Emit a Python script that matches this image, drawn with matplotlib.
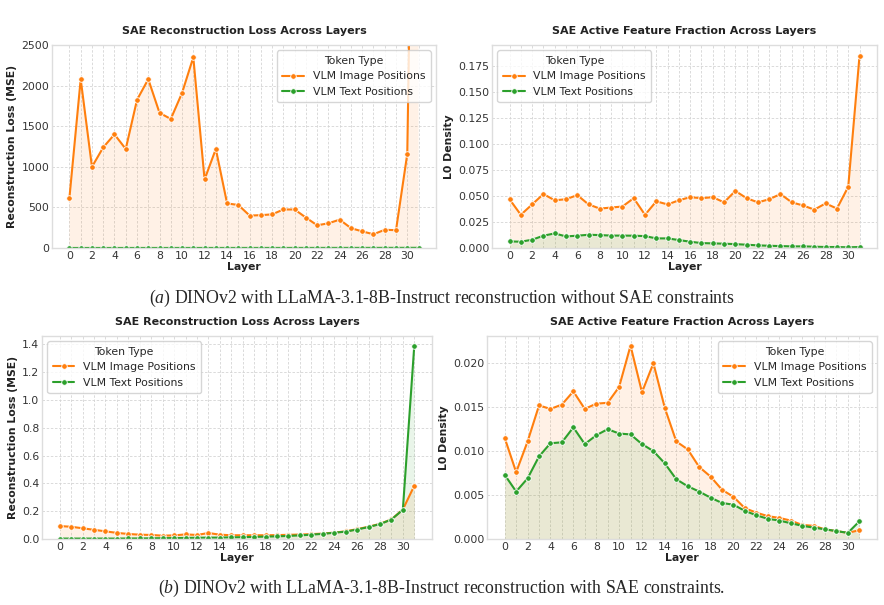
import matplotlib
matplotlib.use("Agg")
import matplotlib.pyplot as plt
import seaborn as sns
import numpy as np
from matplotlib.ticker import MultipleLocator, FixedLocator

sns.set_theme(style="whitegrid")
plt.rcParams['font.family'] = ['DejaVu Sans']
plt.rcParams['mathtext.fontset'] = 'custom'
plt.rcParams['mathtext.it'] = 'Liberation Serif:italic'
plt.rcParams['mathtext.rm'] = 'Liberation Serif'

layers = list(range(32))

# (a) without SAE constraints
a_mse_image = [620, 2080, 1000, 1240, 1400, 1220, 1825, 2080, 1665, 1590,
               1910, 2350, 845, 1220, 550, 530, 400, 405, 415, 475,
               475, 375, 280, 305, 350, 245, 205, 170, 225, 220,
               1160, 10000]
a_mse_text = [1.0, 1.0, 1.1, 1.1, 1.2, 1.2, 1.2, 1.3, 1.3, 1.3,
              1.4, 1.4, 1.4, 1.5, 1.5, 1.5, 1.6, 1.6, 1.7, 1.7,
              1.8, 1.8, 1.9, 2.0, 2.0, 2.1, 2.2, 2.3, 2.4, 2.5,
              2.7, 3.0]
a_l0_image = [0.047, 0.032, 0.042, 0.052, 0.046, 0.047, 0.051, 0.042, 0.038, 0.039,
              0.040, 0.048, 0.032, 0.045, 0.042, 0.046, 0.049, 0.048, 0.049, 0.044,
              0.055, 0.048, 0.044, 0.047, 0.052, 0.044, 0.041, 0.037, 0.043, 0.038,
              0.059, 0.185]
a_l0_text = [0.0064, 0.0061, 0.0080, 0.0119, 0.0141, 0.0112, 0.0119, 0.0128, 0.0125, 0.0120,
             0.0120, 0.0119, 0.0115, 0.0093, 0.0093, 0.0077, 0.0061, 0.0048, 0.0045, 0.0042,
             0.0038, 0.0032, 0.0026, 0.0022, 0.0019, 0.0016, 0.0016, 0.0013, 0.0010, 0.0010,
             0.0007, 0.0010]

# (b) with SAE constraints
b_mse_image = [0.093, 0.088, 0.077, 0.066, 0.055, 0.044, 0.036, 0.031, 0.029, 0.024,
               0.026, 0.033, 0.029, 0.043, 0.031, 0.027, 0.027, 0.027, 0.027, 0.028,
               0.030, 0.032, 0.035, 0.039, 0.046, 0.055, 0.071, 0.088, 0.109, 0.141,
               0.212, 0.383]
b_mse_text = [0.003, 0.003, 0.003, 0.003, 0.003, 0.003, 0.004, 0.004, 0.005, 0.006,
              0.007, 0.008, 0.009, 0.010, 0.010, 0.012, 0.013, 0.015, 0.017, 0.019,
              0.022, 0.026, 0.031, 0.037, 0.045, 0.053, 0.068, 0.086, 0.107, 0.140,
              0.210, 1.390]
b_l0_image = [0.0115, 0.0076, 0.0111, 0.0152, 0.0148, 0.0153, 0.0168, 0.0148, 0.0154, 0.0155,
              0.0173, 0.0220, 0.0167, 0.0200, 0.0149, 0.0111, 0.0102, 0.0082, 0.0071, 0.0056,
              0.0048, 0.0035, 0.0030, 0.0026, 0.0024, 0.0021, 0.0016, 0.0015, 0.0011, 0.0009,
              0.0007, 0.0010]
b_l0_text = [0.0073, 0.0054, 0.0069, 0.0094, 0.0109, 0.0110, 0.0127, 0.0108, 0.0118, 0.0125,
             0.0120, 0.0119, 0.0108, 0.0100, 0.0086, 0.0068, 0.0060, 0.0054, 0.0047, 0.0041,
             0.0039, 0.0032, 0.0027, 0.0023, 0.0021, 0.0018, 0.0015, 0.0013, 0.0011, 0.0009,
             0.0007, 0.0020]

series_labels = ["VLM Image Positions", "VLM Text Positions"]
colors = ["#ff7f0e", "#2ca02c"]
xticks = list(range(0, 31, 2))

fig = plt.figure(figsize=(8.84, 6.05), dpi=100)
axes = {
    "tl": fig.add_axes([0.0588, 0.590, 0.4344, 0.3355]),
    "tr": fig.add_axes([0.5566, 0.590, 0.4355, 0.3355]),
    "bl": fig.add_axes([0.0475, 0.1091, 0.4412, 0.3355]),
    "br": fig.add_axes([0.5509, 0.1091, 0.4412, 0.3355]),
}

FS = 7.8


def draw(ax, ys, title, ylabel, legend_loc, ylim=None):
    for y, lab, c in zip(ys, series_labels, colors):
        ax.fill_between(layers, 0, y, color=c, alpha=0.1, linewidth=0)
        ax.plot(layers, y, color=c, marker='o', markersize=4, linewidth=1.5,
                markeredgecolor='white', markeredgewidth=0.6, label=lab)
    ax.set_xlim(-1.55, 32.55)
    if ylim is not None:
        ax.set_ylim(*ylim)
    else:
        ax.set_ylim(bottom=0)
    ax.xaxis.set_major_locator(FixedLocator(xticks))
    ax.xaxis.set_minor_locator(FixedLocator(layers))
    ax.grid(True, which='both', axis='x', linestyle=(0, (3, 2)), linewidth=0.6, color='#d5d5d5')
    ax.grid(True, which='major', axis='y', linestyle=(0, (3, 2)), linewidth=0.6, color='#d5d5d5')
    ax.tick_params(axis='both', which='major', labelsize=FS, pad=2, length=0,
                   labelcolor='#333333')
    ax.tick_params(axis='x', which='minor', length=0)
    for s in ax.spines.values():
        s.set_color('#dddddd')
        s.set_linewidth(1.0)
    ax.set_title(title, fontsize=8.0, fontweight='bold', pad=8, color='#222222')
    ax.set_xlabel("Layer", fontsize=FS, fontweight='bold', labelpad=1, color='#222222')
    ax.set_ylabel(ylabel, fontsize=FS, fontweight='bold', labelpad=3, color='#222222')
    ax.legend(title="Token Type", loc=legend_loc, fontsize=FS, title_fontsize=FS,
              frameon=True, framealpha=0.8, edgecolor='#cccccc', fancybox=True,
              borderpad=0.5, handlelength=2.0)
    return ax


draw(axes["tl"], [a_mse_image, a_mse_text], "SAE Reconstruction Loss Across Layers",
     "Reconstruction Loss (MSE)", "upper right", ylim=(0, 2500))
draw(axes["tr"], [a_l0_image, a_l0_text], "SAE Active Feature Fraction Across Layers",
     "L0 Density", "upper left")
draw(axes["bl"], [b_mse_image, b_mse_text], "SAE Reconstruction Loss Across Layers",
     "Reconstruction Loss (MSE)", "upper left")
draw(axes["br"], [b_l0_image, b_l0_text], "SAE Active Feature Fraction Across Layers",
     "L0 Density", "upper right")

axes["tr"].yaxis.set_major_locator(MultipleLocator(0.025))
axes["tr"].set_ylim(0, 0.1955)
axes["br"].yaxis.set_major_locator(MultipleLocator(0.005))
axes["bl"].yaxis.set_major_locator(MultipleLocator(0.2))

serif = ['Liberation Serif', 'DejaVu Serif']
fig.text(0.5, 0.507, r"$\it{(a)}$ DINOv2 with LLaMA-3.1-8B-Instruct reconstruction without SAE constraints",
         ha='center', va='center', fontsize=12.8, family=serif)
fig.text(0.5, 0.028, r"$\it{(b)}$ DINOv2 with LLaMA-3.1-8B-Instruct reconstruction with SAE constraints.",
         ha='center', va='center', fontsize=12.8, family=serif)

fig.savefig("out.png", dpi=100)
